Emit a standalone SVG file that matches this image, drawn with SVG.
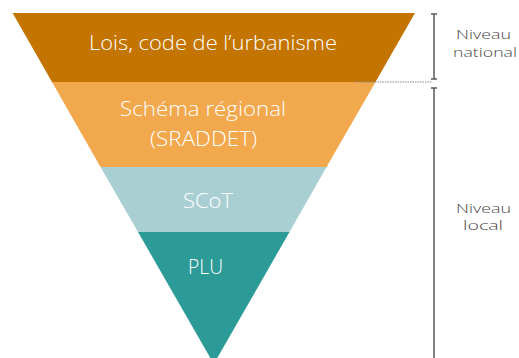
<svg xmlns="http://www.w3.org/2000/svg" width="519" height="358" viewBox="0 0 519 358">
  <style>
    .lbl { font-family: "Open Sans", "Liberation Sans", sans-serif; font-weight: 300; fill: #ffffff; font-size: 21px; text-anchor: middle; }
    .side { font-family: "Open Sans", "Liberation Sans", sans-serif; font-weight: 300; fill: #4d4646; font-size: 12.5px; text-anchor: middle; }
    .br { stroke: #5c5858; stroke-width: 1.5; fill: none; }
  </style>
  <rect width="519" height="358" fill="#ffffff"/>
  <g id="band-national">
    <polygon points="12.6,13 415,13 375.5,82 52,82" fill="#c47400"/>
    <text class="lbl" x="213" y="50" textLength="248" lengthAdjust="spacingAndGlyphs">Lois, code de l’urbanisme</text>
  </g>
  <g id="band-regional">
    <polygon points="52,82 375.5,82 326.5,167 100.5,167" fill="#f2a84c"/>
    <text class="lbl" x="203" y="116" textLength="166" lengthAdjust="spacingAndGlyphs">Schéma régional</text>
    <text class="lbl" x="203.5" y="146" textLength="107" lengthAdjust="spacingAndGlyphs">(SRADDET)</text>
  </g>
  <g id="band-scot">
    <polygon points="100.5,167 326.5,167 289.5,232 138,232" fill="#aacfd3"/>
    <text class="lbl" x="208" y="208" textLength="50" lengthAdjust="spacingAndGlyphs">SCoT</text>
  </g>
  <g id="band-plu">
    <polygon points="138,232 289.5,232 213.8,364" fill="#2c9b98"/>
    <text class="lbl" x="205.5" y="274" textLength="35" lengthAdjust="spacingAndGlyphs">PLU</text>
  </g>
  <g id="connectors">
    <line x1="355" y1="82" x2="432" y2="82" stroke="#8a8a8a" stroke-width="1" stroke-dasharray="1.5,1"/>
    <path class="br" d="M434,14 V79 M431,14 H437 M431,79 H437"/>
    <path class="br" d="M434,88 V358 M431,88 H437"/>
  </g>
  <g id="level-national">
    <text class="side" x="483.5" y="39" textLength="55" lengthAdjust="spacingAndGlyphs">Niveau</text>
    <text class="side" x="485" y="57" textLength="64" lengthAdjust="spacingAndGlyphs">national</text>
  </g>
  <g id="level-local">
    <text class="side" x="483.5" y="213" textLength="55" lengthAdjust="spacingAndGlyphs">Niveau</text>
    <text class="side" x="483" y="230" textLength="40" lengthAdjust="spacingAndGlyphs">local</text>
  </g>
</svg>
